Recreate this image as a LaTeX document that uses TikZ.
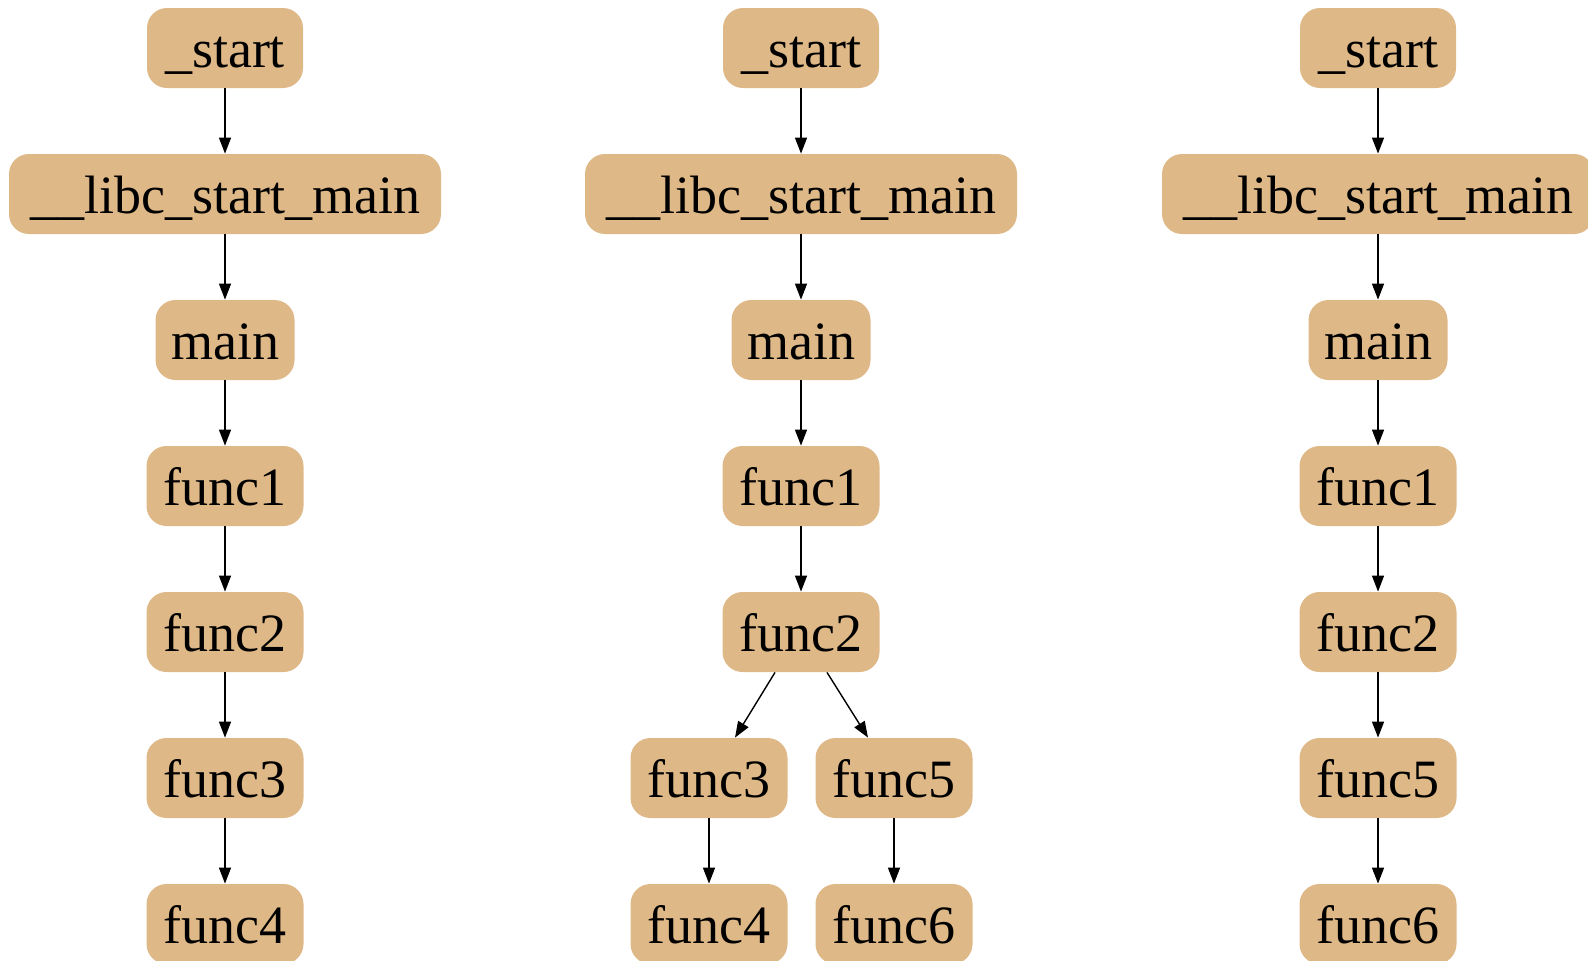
\documentclass[tikz,border=0pt]{standalone}
\usepackage{fontspec}
\setmainfont{Liberation Serif}
\usetikzlibrary{arrows.meta}
\definecolor{burly}{HTML}{DEB887}
\tikzset{
  fn/.style={fill=burly, draw=none, rounded corners=10pt, minimum height=40pt,
    inner sep=0pt, text height=24pt, text depth=4.5pt,
    font=\fontsize{27}{32}\selectfont},
  wstart/.style={fn, minimum width=78pt},
  wlibc/.style={fn, minimum width=216pt},
  wmain/.style={fn, minimum width=69.5pt},
  wfunc/.style={fn, minimum width=78.5pt},
  call/.style={-{Triangle[length=8pt,width=6pt]}, line width=0.7pt, black},
}
\begin{document}
\begin{tikzpicture}[x=0.5pt,y=-0.5pt]
\useasboundingbox (0,0) rectangle (1588,960);

% first call chain
\node[wstart] (as) at (225,48) {\_start};
\node[wlibc]  (al) at (225,194) {\_\_libc\_start\_main};
\node[wmain]  (am) at (225,340) {main};
\node[wfunc]  (a1) at (225,486) {func1};
\node[wfunc]  (a2) at (225,632) {func2};
\node[wfunc]  (a3) at (225,778) {func3};
\node[wfunc]  (a4) at (225,924) {func4};
\draw[call] (as) -- (al);
\draw[call] (al) -- (am);
\draw[call] (am) -- (a1);
\draw[call] (a1) -- (a2);
\draw[call] (a2) -- (a3);
\draw[call] (a3) -- (a4);

% second call chain, branching after func2
\node[wstart] (bs) at (801,48) {\_start};
\node[wlibc]  (bl) at (801,194) {\_\_libc\_start\_main};
\node[wmain]  (bm) at (801,340) {main};
\node[wfunc]  (b1) at (801,486) {func1};
\node[wfunc]  (b2) at (801,632) {func2};
\node[wfunc]  (b3) at (709,778) {func3};
\node[wfunc]  (b4) at (709,924) {func4};
\node[wfunc]  (b5) at (894,778) {func5};
\node[wfunc]  (b6) at (894,924) {func6};
\draw[call] (bs) -- (bl);
\draw[call] (bl) -- (bm);
\draw[call] (bm) -- (b1);
\draw[call] (b1) -- (b2);
\draw[call] ([xshift=-13pt]b2.south) -- ([xshift=13pt]b3.north);
\draw[call] ([xshift=13pt]b2.south) -- ([xshift=-13pt]b5.north);
\draw[call] (b3) -- (b4);
\draw[call] (b5) -- (b6);

% third call chain
\node[wstart] (cs) at (1378,48) {\_start};
\node[wlibc]  (cl) at (1378,194) {\_\_libc\_start\_main};
\node[wmain]  (cm) at (1378,340) {main};
\node[wfunc]  (c1) at (1378,486) {func1};
\node[wfunc]  (c2) at (1378,632) {func2};
\node[wfunc]  (c5) at (1378,778) {func5};
\node[wfunc]  (c6) at (1378,924) {func6};
\draw[call] (cs) -- (cl);
\draw[call] (cl) -- (cm);
\draw[call] (cm) -- (c1);
\draw[call] (c1) -- (c2);
\draw[call] (c2) -- (c5);
\draw[call] (c5) -- (c6);
\end{tikzpicture}
\end{document}
